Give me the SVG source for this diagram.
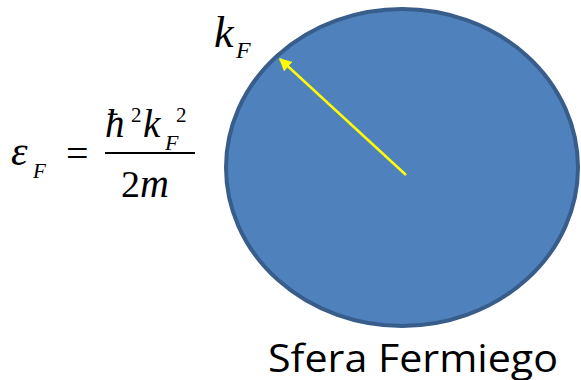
<svg xmlns="http://www.w3.org/2000/svg" width="581" height="380" viewBox="0 0 581 380">
<style>
.m{font-family:"Liberation Serif","Times New Roman",serif;font-style:italic;fill:#000}
.r{font-family:"Liberation Serif","Times New Roman",serif;font-style:normal;fill:#000}
.lbl{font-family:"Open Sans","Liberation Sans",sans-serif;fill:#000}
</style>
<defs>
<marker id="ah" viewBox="0 0 10 10" refX="9" refY="5" markerWidth="5" markerHeight="5" orient="auto" markerUnits="strokeWidth">
<path d="M0,0 L10,5 L0,10 z" fill="#ffff00"/>
</marker>
</defs>
<g id="sphere">
<ellipse cx="402" cy="167.5" rx="176" ry="158.5" fill="#4f81bd" stroke="#385d8a" stroke-width="4"/>
</g>
<g id="connectors">
<line x1="406" y1="175" x2="280" y2="59" stroke="#ffff00" stroke-width="2.5" marker-end="url(#ah)"/>
</g>
<g id="kF-label">
<text class="m" x="214" y="47" font-size="44">k</text>
<text class="m" x="236" y="58" font-size="24">F</text>
</g>
<g id="formula">
<text class="m" x="11" y="165" font-size="42">ε</text>
<text class="m" x="33" y="178" font-size="21">F</text>
<text class="r" x="66" y="167" font-size="40">=</text>
<line x1="105" y1="153" x2="195" y2="153" stroke="#000" stroke-width="2"/>
<text class="m" x="105" y="137" font-size="39">ħ</text>
<text class="r" x="131" y="122" font-size="21">2</text>
<text class="m" x="143" y="137" font-size="39">k</text>
<text class="m" x="165" y="150" font-size="22">F</text>
<text class="r" x="176" y="122" font-size="21">2</text>
<text class="r" x="121" y="197" font-size="38">2</text>
<text class="m" x="140" y="197" font-size="40">m</text>
</g>
<g id="caption">
<text class="lbl" x="268" y="372" font-size="38" textLength="290" lengthAdjust="spacingAndGlyphs">Sfera Fermiego</text>
</g>
</svg>
